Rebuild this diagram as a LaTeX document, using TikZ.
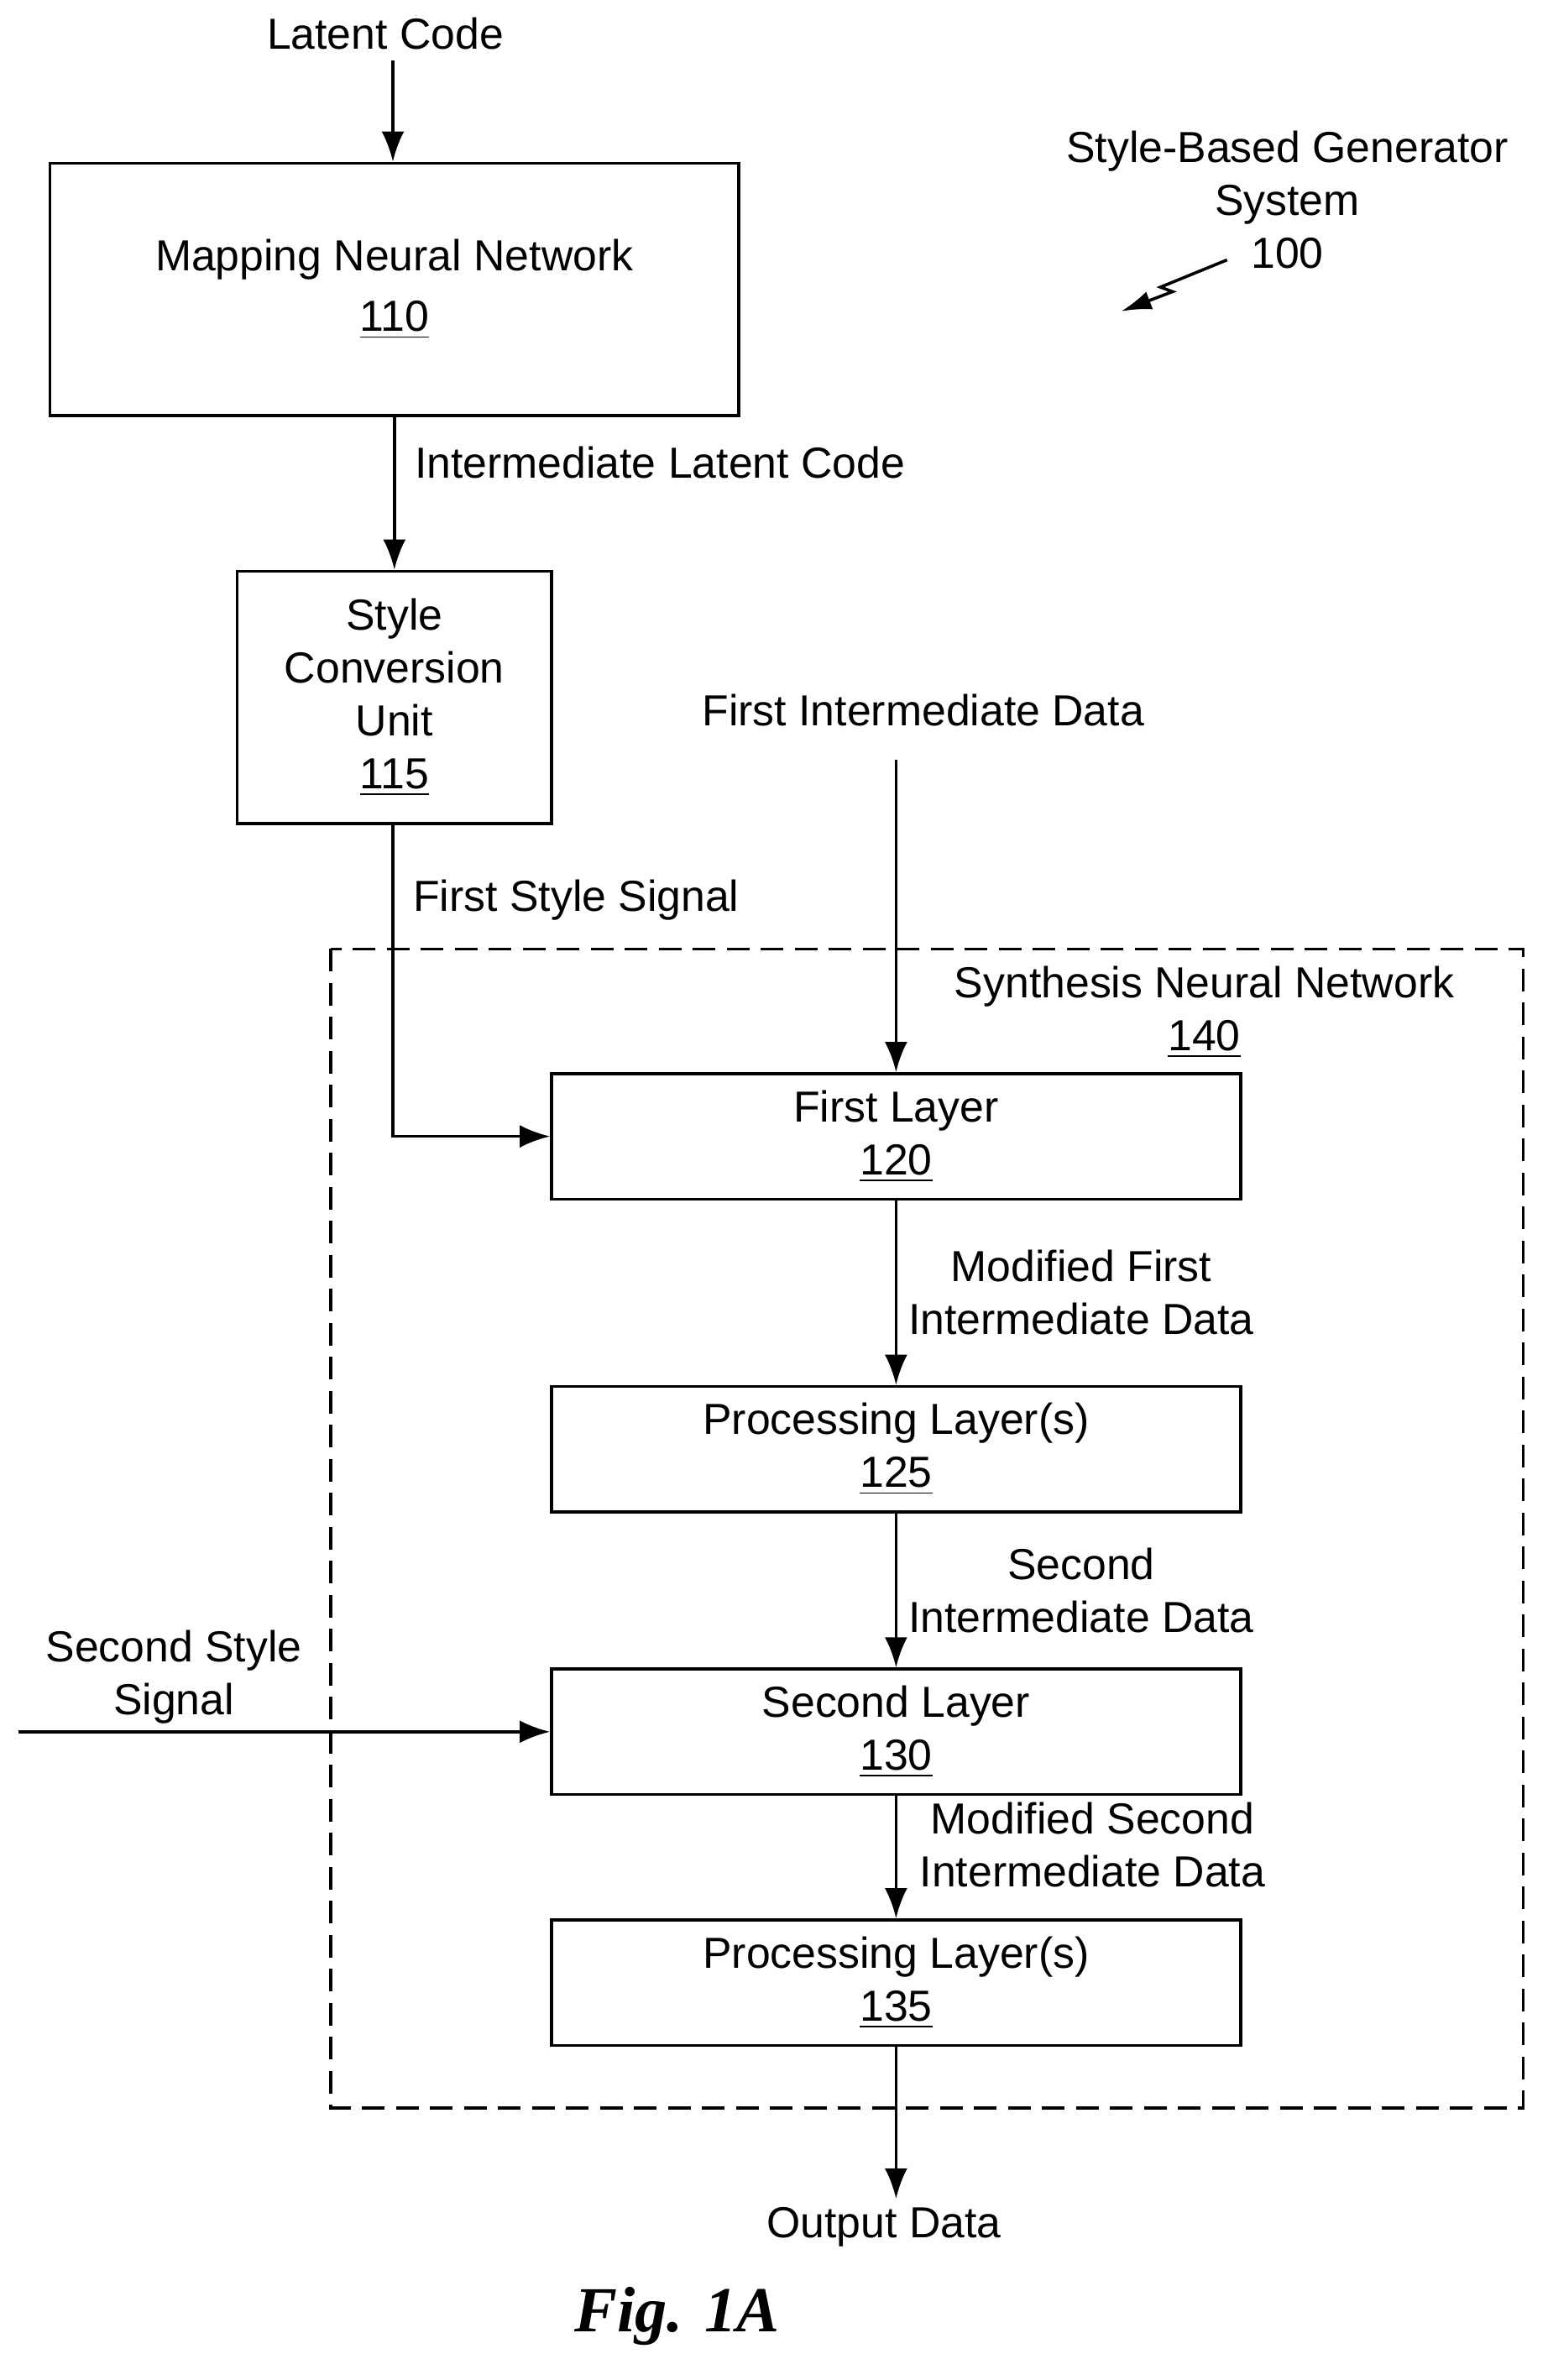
\documentclass[tikz,border=0pt]{standalone}
\usepackage{fontspec}
\setmainfont{Liberation Sans}
\usetikzlibrary{arrows.meta}
\tikzset{
  block/.style={draw, thick, align=center, inner sep=0pt},
  wideblock/.style={block, minimum width=182.4pt, minimum height=33.2pt},
  flow/.style={thick, -{Latex[length=8pt,width=6pt]}},
  lbl/.style={align=center, inner sep=0pt}
}
\begin{document}
\begin{tikzpicture}[x=0.4pt,y=-0.4pt,font=\fontsize{11.5}{14}\selectfont]
\useasboundingbox (0,0) rectangle (1024,1575);

% top blocks
\node[lbl] (latent) at (255,22) {Latent Code};
\node[block, minimum width=182.4pt, minimum height=66.8pt] (mapping) at (261,191.5)
  {Mapping Neural Network\\[2pt]\underline{110}};
\node[block, minimum width=83.2pt, minimum height=66.8pt] (styleconv) at (261,461.5)
  {Style\\Conversion\\Unit\\\underline{115}};
\node[lbl] (system) at (852,132) {Style-Based Generator\\System\\100};

% synthesis network
\draw[thick, dash pattern=on 6pt off 3pt] (219,628) rectangle (1008,1395);
\node[lbl] (synth) at (797,670) {Synthesis Neural Network\\\underline{140}};
\node[wideblock] (firstlayer) at (593,752) {First Layer\\\underline{120}};
\node[wideblock] (proc125) at (593,959) {Processing Layer(s)\\\underline{125}};
\node[wideblock] (secondlayer) at (593,1146) {Second Layer\\\underline{130}};
\node[wideblock] (proc135) at (593,1312) {Processing Layer(s)\\\underline{135}};

% inputs and outputs
\node[lbl] (firstdata) at (611,470) {First Intermediate Data};
\node[lbl] (secondstyle) at (115,1110) {Second Style\\Signal};
\node[lbl] (output) at (585,1474) {Output Data};
\coordinate (latentend) at (260,40);
\coordinate (firstdataend) at (593,503);
\coordinate (secondstart) at (12,1146);
\coordinate (outend) at (593,1455);

% connectors
\draw[flow] (latentend) -- (latentend |- mapping.north);
\draw[flow] (mapping.south -| styleconv) -- (styleconv.north)
  node[pos=0.3, right=5pt, lbl] {Intermediate Latent Code};
\draw[flow] (styleconv.south -| 260,0) |- (firstlayer.west)
  node[pos=0.12, right=5pt, lbl] {First Style Signal};
\draw[flow] (firstdataend) -- (firstlayer.north);
\draw[flow] (firstlayer) -- (proc125)
  node[midway, xshift=49pt, lbl] {Modified First\\Intermediate Data};
\draw[flow] (proc125) -- (secondlayer)
  node[midway, xshift=49pt, lbl] {Second\\Intermediate Data};
\draw[flow] (secondstart) -- (secondlayer.west);
\draw[flow] (secondlayer) -- (proc135)
  node[pos=0.4, xshift=52pt, lbl] {Modified Second\\Intermediate Data};
\draw[flow] (proc135) -- (outend);

% reference arrow
\draw[thick, -{Latex[length=8pt,width=5pt]}] (812,172) -- (768,190) -- (776,193) -- (742,206);

\node[lbl, font=\fontsize{17}{20}\selectfont\bfseries\itshape\fontspec{Liberation Serif}] (fig) at (448,1533) {Fig. 1A};
\end{tikzpicture}
\end{document}
